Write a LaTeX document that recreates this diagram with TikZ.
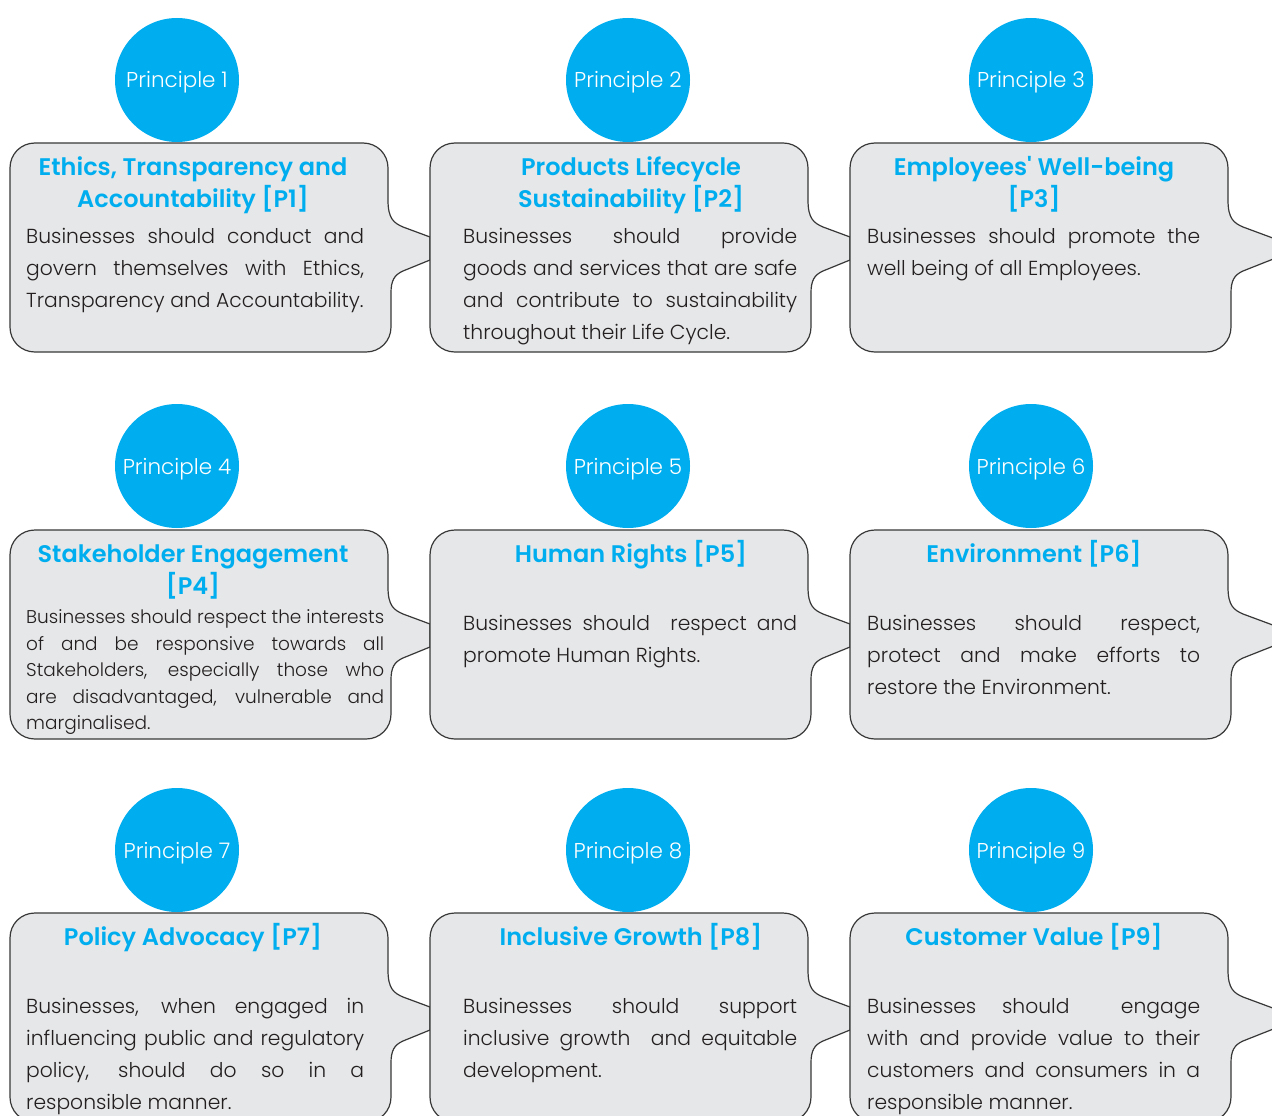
\documentclass[tikz,border=0pt]{standalone}
\usepackage{fontspec}
\IfFontExistsTF{Poppins Light}{\newfontfamily\bodyfont{Poppins Light}}{\newfontfamily\bodyfont{Poppins}}
\IfFontExistsTF{Poppins SemiBold}{\newfontfamily\titlefont{Poppins SemiBold}}{\newfontfamily\titlefont{Poppins}[UprightFont=*-Bold]}
\definecolor{brandcyan}{HTML}{00AEEF}
\definecolor{boxgray}{HTML}{E6E7E8}
\definecolor{edgegray}{HTML}{383838}
\definecolor{ink}{HTML}{231F20}

\tikzset{
  calloutbox/.style={draw=edgegray, fill=boxgray, line width=1.2pt},
  pcircle/.style={circle, fill=brandcyan, minimum size=124pt, inner sep=0pt},
  plabel/.style={font=\bodyfont\fontsize{21.5}{24}\selectfont, text=white, inner sep=0pt, anchor=base},
  ptitle/.style={font=\titlefont\fontsize{24}{32}\selectfont, text=brandcyan, inner sep=0pt, anchor=base},
  bodytxt/.style={font=\bodyfont\fontsize{20.3}{32}\selectfont, text=ink, inner sep=0pt, anchor=base west},
  smallbody/.style={bodytxt, font=\bodyfont\fontsize{18.5}{26}\selectfont},
}

% speech-bubble box with a notch pointing right; #1 = left, #2 = top, #3 = tip offset
\newcommand\prcallout[3]{%
  \begin{scope}[shift={(#1,#2)}]
    \draw[calloutbox] (25,0) -- (353,0) .. controls (367,0) and (378,11) .. (378,25)
      -- (378,57) .. controls (378,76) and (384,80) .. (393,84) -- (#3,{94+(#3-420)*10/27})
      -- (#3,{117-(#3-420)*10/27})
      -- (393,128) .. controls (384,132) and (381,138) .. (381,150)
      -- (381,184) .. controls (381,198) and (370,209) .. (356,209)
      -- (25,209) .. controls (11,209) and (0,198) .. (0,184)
      -- (0,25) .. controls (0,11) and (11,0) .. (25,0) -- cycle;
  \end{scope}}
% a justified body line and a ragged last line
\newcommand\prjust[5][bodytxt]{\node[#1] (#2) at (#3) {\makebox[#4][s]{#5}};}
\newcommand\prleft[4][bodytxt]{\node[#1] (#2) at (#3) {#4};}

\begin{document}
\begin{tikzpicture}[x=1pt, y=-1pt]
\useasboundingbox[fill=white] (0,0) rectangle (1272,1116);

% bubbles
\foreach \r in {143,530,913}{
  \prcallout{10}{\r}{420}
  \prcallout{430}{\r}{420}
  \prcallout{850}{\r}{432}
}

% principle discs
\foreach \n/\cx/\cy in {1/177/80, 2/628/80, 3/1031/80, 4/177/466, 5/628/466, 6/1031/466, 7/177/850, 8/628/850, 9/1031/850}{
  \node[pcircle] (c\n) at (\cx,\cy) {};
  \node[plabel] (l\n) at (\cx,\cy+8) {Principle \n};
}

% ---- row 1 ----
\node[ptitle] (t1a) at (193,175) {Ethics, Transparency and};
\node[ptitle] (t1b) at (193,207) {Accountability [P1]};
\prjust{b1a}{26,243}{338pt}{Businesses should conduct and}
\prjust{b1b}{26,275}{338pt}{govern themselves with Ethics,}
\prleft{b1c}{26,307}{Transparency and Accountability.}

\node[ptitle] (t2a) at (631,175) {Products Lifecycle};
\node[ptitle] (t2b) at (631,207) {Sustainability [P2]};
\prjust{b2a}{463,243}{334pt}{Businesses should provide}
\prjust{b2b}{463,275}{334pt}{goods and services that are safe}
\prjust{b2c}{463,307}{334pt}{and contribute to sustainability}
\prleft{b2d}{463,339}{throughout their Life Cycle.}

\node[ptitle] (t3a) at (1034,175) {Employees' Well-being};
\node[ptitle] (t3b) at (1034,207) {[P3]};
\prjust{b3a}{867,243}{333pt}{Businesses should promote the}
\prleft{b3b}{867,275}{well being of all Employees.}

% ---- row 2 ----
\node[ptitle] (t4a) at (193,562) {Stakeholder Engagement};
\node[ptitle] (t4b) at (193,594) {[P4]};
\prjust[smallbody]{b4a}{26,623}{358pt}{Businesses should respect the interests}
\prjust[smallbody]{b4b}{26,650}{358pt}{of and be responsive towards all}
\prjust[smallbody]{b4c}{26,676}{358pt}{Stakeholders, especially those who}
\prjust[smallbody]{b4d}{26,703}{358pt}{are disadvantaged, vulnerable and}
\prleft[smallbody]{b4e}{26,729}{marginalised.}

\node[ptitle] (t5a) at (631,562) {Human Rights [P5]};
\prjust{b5a}{463,630}{334pt}{Businesses should \ respect and}
\prleft{b5b}{463,662}{promote Human Rights.}

\node[ptitle] (t6a) at (1034,562) {Environment [P6]};
\prjust{b6a}{867,630}{333pt}{Businesses should respect,}
\prjust{b6b}{867,662}{333pt}{protect and make efforts to}
\prleft{b6c}{867,694}{restore the Environment.}

% ---- row 3 ----
\node[ptitle] (t7a) at (193,945) {Policy Advocacy [P7]};
\prjust{b7a}{26,1013}{338pt}{Businesses, when engaged in}
\prjust{b7b}{26,1045}{338pt}{influencing public and regulatory}
\prjust{b7c}{26,1077}{338pt}{policy, should do so in a}
\prleft{b7d}{26,1109}{responsible manner.}

\node[ptitle] (t8a) at (631,945) {Inclusive Growth [P8]};
\prjust{b8a}{463,1013}{334pt}{Businesses should support}
\prjust{b8b}{463,1045}{334pt}{inclusive growth \ and equitable}
\prleft{b8c}{463,1077}{development.}

\node[ptitle] (t9a) at (1034,945) {Customer Value [P9]};
\prjust{b9a}{867,1013}{333pt}{Businesses should \ engage}
\prjust{b9b}{867,1045}{333pt}{with and provide value to their}
\prjust{b9c}{867,1077}{333pt}{customers and consumers in a}
\prleft{b9d}{867,1109}{responsible manner.}
\end{tikzpicture}
\end{document}
